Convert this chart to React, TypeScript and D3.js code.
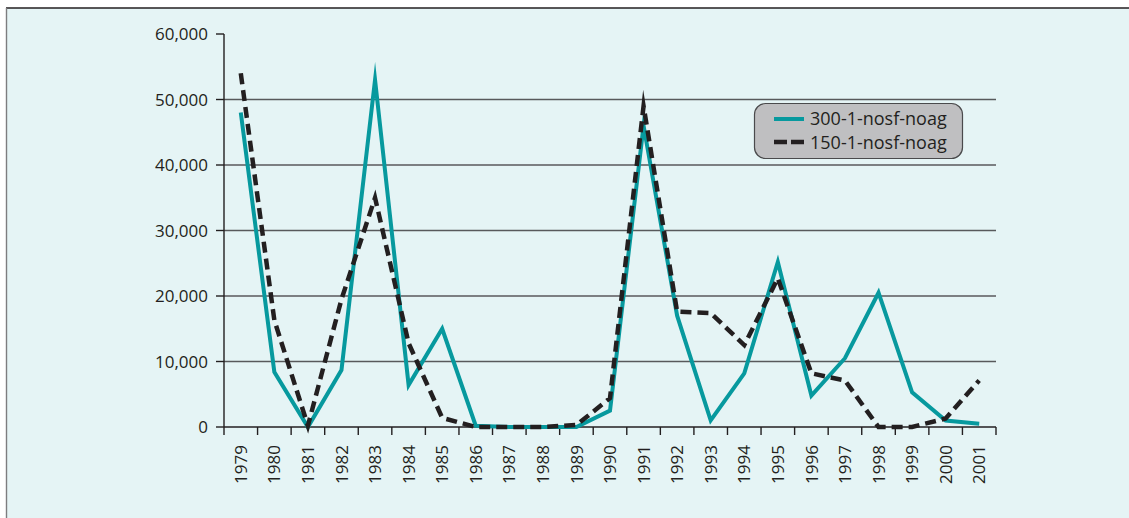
import React from "react";
import * as d3 from "d3";

const years = ["1979","1980","1981","1982","1983","1984","1985","1986","1987","1988","1989","1990","1991","1992","1993","1994","1995","1996","1997","1998","1999","2000","2001"];
const series300 = [48000, 8400, 0, 8700, 53000, 6400, 15000, 200, 0, 0, 0, 2500, 46000, 17000, 1000, 8200, 25200, 4800, 10500, 20500, 5300, 1000, 500];
const series150 = [54000, 16300, 200, 19500, 35000, 12800, 1400, 0, 0, 0, 300, 4400, 49000, 17600, 17400, 12500, 22700, 8200, 7100, 0, 0, 1300, 7100];
const yTicks = [0, 10000, 20000, 30000, 40000, 50000, 60000];
const legendLabels = ["300-1-nosf-noag", "150-1-nosf-noag"];

const W = 1129, H = 518;
const left = 224, right = 996, top = 34, bottom = 427;
const TEAL = "#07999e";
const DARK = "#231f20";
const FONT = "'Open Sans', sans-serif";

export default function App() {
  const x = d3.scaleBand<string>().domain(years).range([left, right]).padding(0);
  const y = d3.scaleLinear().domain([0, 60000]).range([bottom, top]);
  const cx = (yr: string) => (x(yr) as number) + x.bandwidth() / 2;
  const line = d3.line<number>().x((_, i) => cx(years[i])).y((v) => y(v));
  const fmt = d3.format(",");
  const boundaries = years.map((yr) => x(yr) as number).concat([right]);

  return (
    <div style={{ position: "absolute", left: 0, top: 0 }}>
      <svg width={W} height={H} style={{ display: "block" }}>
        <rect x={0} y={0} width={W} height={H} fill="#ffffff" />
        <rect x={6} y={8} width={W} height={H} fill="#e5f4f5" />
        <line x1={6} y1={8} x2={W} y2={8} stroke={DARK} strokeWidth={1.4} />
        <line x1={6.5} y1={8} x2={6.5} y2={H} stroke="#7d7d7f" strokeWidth={1.4} />

        {yTicks.filter((t) => t > 0 && t < 60000).map((t) => (
          <line key={"g" + t} x1={left} x2={right} y1={y(t)} y2={y(t)} stroke="#58595b" strokeWidth={1.3} />
        ))}

        <line x1={left} x2={left} y1={top} y2={bottom} stroke={DARK} strokeWidth={1.4} />
        <line x1={left} x2={right} y1={bottom} y2={bottom} stroke={DARK} strokeWidth={1.4} />

        {yTicks.map((t) => (
          <g key={"y" + t}>
            <line x1={left - 8} x2={left} y1={y(t)} y2={y(t)} stroke={DARK} strokeWidth={1.4} />
            <text x={208} y={y(t)} dy="0.36em" textAnchor="end" fontFamily={FONT} fontSize={17} fill={DARK}>
              {fmt(t)}
            </text>
          </g>
        ))}

        {boundaries.map((bx, i) => (
          <line key={"xt" + i} x1={bx} x2={bx} y1={bottom} y2={bottom + 8} stroke={DARK} strokeWidth={1.4} />
        ))}
        {years.map((yr) => (
          <text
            key={"xl" + yr}
            transform={`translate(${cx(yr)},445) rotate(-90)`}
            dy="0.36em"
            textAnchor="end"
            fontFamily={FONT}
            fontSize={17}
            fill={DARK}
          >
            {yr}
          </text>
        ))}

        <path d={line(series300) || ""} fill="none" stroke={TEAL} strokeWidth={4} strokeLinejoin="miter" strokeMiterlimit={10} />
        <path d={line(series150) || ""} fill="none" stroke={DARK} strokeWidth={4.5} strokeDasharray="11,6" strokeLinejoin="miter" strokeMiterlimit={10} />

        <g>
          <rect x={754.5} y={103.5} width={208} height={55} rx={11} fill="#bfbfc1" stroke="#4a4a4c" strokeWidth={1.2} />
          <line x1={774} x2={804} y1={119} y2={119} stroke={TEAL} strokeWidth={4} />
          <text x={810} y={125} fontFamily={FONT} fontSize={18} fill={DARK}>{legendLabels[0]}</text>
          <line x1={774} x2={804} y1={142} y2={142} stroke={DARK} strokeWidth={4.5} strokeDasharray="13,4" />
          <text x={810} y={148.5} fontFamily={FONT} fontSize={18} fill={DARK}>{legendLabels[1]}</text>
        </g>
      </svg>
    </div>
  );
}
